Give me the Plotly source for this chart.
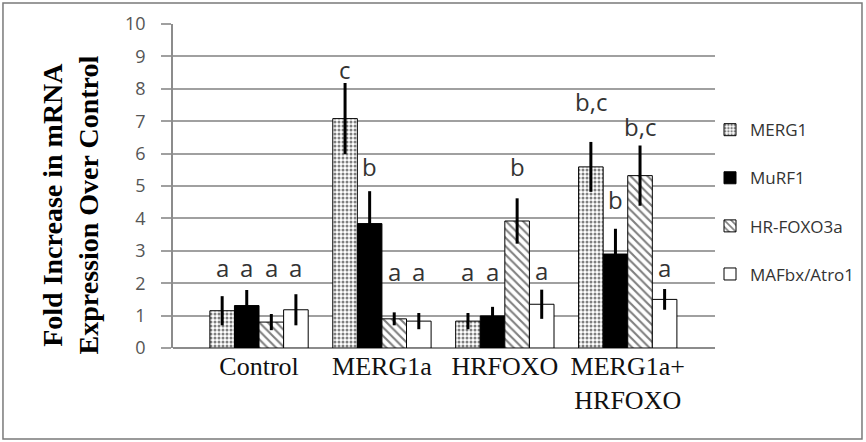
import plotly.graph_objects as go

groups = ["Control", "MERG1a", "HRFOXO", "MERG1a+<br>HRFOXO"]
series_names = ["MERG1", "MuRF1", "HR-FOXO3a", "MAFbx/Atro1"]

merg1 = [1.15, 7.08, 0.83, 5.59]
merg1_err = [0.45, 1.1, 0.25, 0.77]
murf1 = [1.31, 3.84, 0.99, 2.90]
murf1_err = [0.48, 1.0, 0.28, 0.78]
hrfoxo = [0.80, 0.90, 3.92, 5.32]
hrfoxo_err = [0.25, 0.2, 0.7, 0.93]
mafbx = [1.18, 0.83, 1.35, 1.50]
mafbx_err = [0.48, 0.25, 0.45, 0.32]

merg1_letters = ["a", "c", "a", "b,c"]
murf1_letters = ["a", "b", "a", "b"]
hrfoxo_letters = ["a", "a", "b", "b,c"]
mafbx_letters = ["a", "a", "a", "a"]
# heights (data units) where the significance letters sit
merg1_letter_y = [2.47, 8.6, 2.35, 7.62]
murf1_letter_y = [2.47, 5.6, 2.35, 4.58]
hrfoxo_letter_y = [2.47, 2.35, 5.6, 6.85]
mafbx_letter_y = [2.47, 2.35, 2.4, 2.47]

y_ticks = list(range(0, 11))

values = [merg1, murf1, hrfoxo, mafbx]
errors = [merg1_err, murf1_err, hrfoxo_err, mafbx_err]
letters = [merg1_letters, murf1_letters, hrfoxo_letters, mafbx_letters]
letter_ys = [merg1_letter_y, murf1_letter_y, hrfoxo_letter_y, mafbx_letter_y]

styles = [
    dict(color="white", pattern=dict(shape=".", fgcolor="black", bgcolor="white", size=4, solidity=0.45)),
    dict(color="black"),
    dict(color="white", pattern=dict(shape="\\", fgcolor="black", bgcolor="white", size=6, solidity=0.35)),
    dict(color="white"),
]

x = list(range(len(groups)))
fig = go.Figure()
for i, name in enumerate(series_names):
    fig.add_trace(go.Bar(
        x=x, y=values[i], name=name, legendgroup=name,
        marker=dict(**styles[i], line=dict(color="black", width=1)),
        error_y=dict(type="data", array=errors[i], color="black", thickness=3, width=0),
    ))

n = len(series_names)
group_w = 0.8
bar_w = group_w / n
annotations = []
for i in range(n):
    off = -group_w / 2 + bar_w * (i + 0.5)
    for g in range(len(groups)):
        annotations.append(dict(
            x=g + off, y=letter_ys[i][g], xref="x", yref="y", text=letters[i][g],
            showarrow=False, font=dict(family="Open Sans", size=24, color="#333333"),
            yanchor="middle", xanchor="center",
        ))

annotations.append(dict(
    x=-0.19, y=0.44, xref="paper", yref="paper",
    text="<b>Fold Increase in mRNA<br>Expression Over Control</b>",
    textangle=-90, showarrow=False,
    font=dict(family="Liberation Serif", size=28, color="black"),
    xanchor="center", yanchor="middle",
))

fig.update_layout(
    width=866, height=442,
    margin=dict(l=173, r=151, t=24, b=94, autoexpand=False),
    paper_bgcolor="white", plot_bgcolor="white",
    barmode="group", bargap=0.2, bargroupgap=0,
    showlegend=True,
    legend=dict(x=0.9908, y=0.728, xanchor="left", yanchor="top",
                font=dict(family="Open Sans", size=17, color="#333333"),
                tracegroupgap=23, itemwidth=30, bgcolor="rgba(0,0,0,0)"),
    annotations=annotations,
    shapes=[dict(type="rect", xref="paper", yref="paper",
                 x0=-0.3137, x1=1.2712, y0=-0.2809, y1=1.0648,
                 line=dict(color="#7a7a7a", width=1.5), fillcolor="rgba(0,0,0,0)", layer="below")],
)
fig.update_xaxes(
    range=[-0.70, 3.71], tickvals=x, ticktext=groups, showgrid=False,
    showline=False, ticks="", zeroline=False,
    tickfont=dict(family="Liberation Serif", size=26, color="#111111"),
)
fig.update_yaxes(
    range=[0, 10], tickvals=y_ticks, showgrid=True, gridcolor="#a0a0a0", gridwidth=1.5,
    showline=True, linecolor="#8c8c8c", linewidth=1.5,
    ticks="outside", ticklen=10, tickcolor="#a0a0a0", tickwidth=1.5,
    ticklabelstandoff=12,
    zeroline=True, zerolinecolor="#8c8c8c", zerolinewidth=1.5,
    tickfont=dict(family="Open Sans", size=18, color="#555555"),
)

fig.write_html("out.html", config={"displayModeBar": False},
               post_script="document.body.style.margin='0px';")
